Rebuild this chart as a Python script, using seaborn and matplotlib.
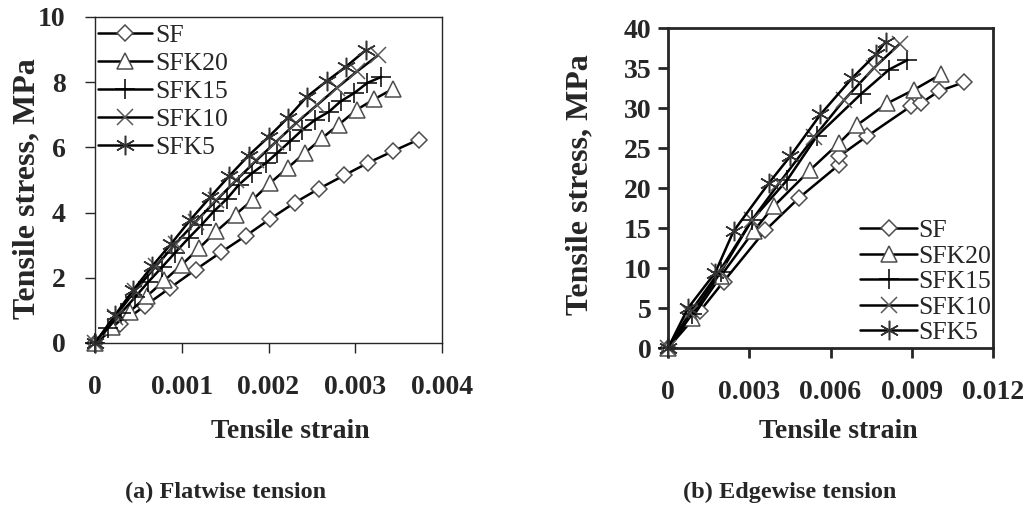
import numpy as np
import pandas as pd
import seaborn as sns
import matplotlib.pyplot as plt

# (a) flatwise tension
flat_sf_x = [0, 0.00029, 0.00058, 0.00087, 0.00116, 0.00145, 0.00174, 0.00202, 0.00230, 0.00258, 0.00287, 0.00315, 0.00344, 0.00373]
flat_sf_y = [0, 0.58, 1.15, 1.70, 2.25, 2.78, 3.29, 3.81, 4.30, 4.73, 5.14, 5.53, 5.89, 6.24]
flat_k20_x = [0, 0.0002, 0.0004, 0.0006, 0.0008, 0.0010, 0.0012, 0.0014, 0.00162, 0.00182, 0.00202, 0.00222, 0.00242, 0.00262, 0.00281, 0.00302, 0.00322, 0.00343]
flat_k20_y = [0, 0.48, 0.96, 1.44, 1.92, 2.40, 2.91, 3.43, 3.94, 4.40, 4.91, 5.37, 5.83, 6.29, 6.70, 7.16, 7.48, 7.79]
flat_k15_x = [0, 0.00015, 0.0003, 0.00046, 0.00061, 0.00077, 0.00092, 0.00108, 0.00123, 0.00137, 0.00152, 0.00166, 0.00181, 0.00197, 0.0021, 0.00225, 0.00239, 0.00254, 0.0027, 0.00283, 0.00299, 0.00314, 0.0033]
flat_k15_y = [0, 0.46, 0.92, 1.40, 1.86, 2.32, 2.76, 3.22, 3.63, 4.04, 4.42, 4.86, 5.21, 5.52, 5.83, 6.19, 6.54, 6.85, 7.10, 7.41, 7.67, 7.98, 8.16]
flat_k10_x = [0, 0.00023, 0.00046, 0.0007, 0.00093, 0.00116, 0.0014, 0.00163, 0.00186, 0.00209, 0.00232, 0.00256, 0.00279, 0.00302, 0.00326]
flat_k10_y = [0, 0.80, 1.60, 2.35, 3.05, 3.72, 4.38, 5.00, 5.60, 6.18, 6.75, 7.30, 7.83, 8.33, 8.82]
flat_k5_x = [0, 0.00023, 0.00044, 0.00066, 0.00088, 0.00110, 0.00133, 0.00155, 0.00177, 0.0020, 0.00222, 0.00244, 0.00267, 0.00289, 0.00312]
flat_k5_y = [0, 0.85, 1.62, 2.36, 3.05, 3.78, 4.48, 5.13, 5.75, 6.32, 6.90, 7.55, 8.03, 8.47, 8.98]

# (b) edgewise tension
edge_sf_x = [0, 0.00118, 0.00205, 0.00359, 0.00483, 0.00631, 0.00633, 0.00736, 0.00896, 0.00933, 0.0100, 0.01091]
edge_sf_y = [0, 4.6, 8.3, 14.7, 18.75, 22.9, 24.0, 26.5, 30.2, 30.6, 32.1, 33.2]
edge_k20_x = [0, 0.00088, 0.00195, 0.00316, 0.0039, 0.00526, 0.00631, 0.00699, 0.0081, 0.00909, 0.01007]
edge_k20_y = [0, 3.75, 9.0, 14.6, 17.7, 22.3, 25.6, 27.9, 30.6, 32.3, 34.2]
edge_k15_x = [0, 0.0009, 0.00195, 0.0031, 0.0044, 0.0055, 0.00711, 0.00816, 0.00884]
edge_k15_y = [0, 4.3, 9.5, 16.0, 21.0, 26.5, 31.7, 34.8, 36.0]
edge_k10_x = [0, 0.0008, 0.0019, 0.0031, 0.0041, 0.0054, 0.0065, 0.0076, 0.00855]
edge_k10_y = [0, 4.4, 9.6, 16.0, 20.6, 26.4, 31.0, 35.0, 38.0]
edge_k5_x = [0, 0.00074, 0.00174, 0.00242, 0.00372, 0.00452, 0.00563, 0.0068, 0.00767, 0.00804]
edge_k5_y = [0, 5.0, 9.4, 14.6, 20.6, 24.0, 29.2, 33.75, 36.7, 38.3]

names = ["SF", "SFK20", "SFK15", "SFK10", "SFK5"]
flat = [(flat_sf_x, flat_sf_y), (flat_k20_x, flat_k20_y), (flat_k15_x, flat_k15_y),
        (flat_k10_x, flat_k10_y), (flat_k5_x, flat_k5_y)]
edge = [(edge_sf_x, edge_sf_y), (edge_k20_x, edge_k20_y), (edge_k15_x, edge_k15_y),
        (edge_k10_x, edge_k10_y), (edge_k5_x, edge_k5_y)]

# marker, size, face, edge
styles = [("D", 8, "white", "0.3"),
          ("^", 11, "white", "0.3"),
          ("+", 14, "none", "black"),
          ("x", 12, "none", "0.35"),
          ((6, 2, 0), 14, "none", "0.2")]

sns.set_style("ticks")
plt.rcParams["font.family"] = ["Liberation Serif", "DejaVu Serif"]

fig = plt.figure(figsize=(10.28, 5.13), dpi=100)
ax1 = fig.add_axes([0.0924, 0.3314, 0.3376, 0.6355])
ax2 = fig.add_axes([0.6498, 0.3216, 0.3162, 0.6238])


def draw(ax, series, lw):
    for name, (x, y), (m, ms, fc, ec) in zip(names, series, styles):
        df = pd.DataFrame({"strain": x, "stress": y})
        sns.lineplot(data=df, x="strain", y="stress", ax=ax, color="black", lw=1.8,
                     marker=m, markersize=ms, markerfacecolor=fc, markeredgecolor=ec,
                     markeredgewidth=1.1, sort=False, estimator=None, label=name,
                     clip_on=False)
    for s in ax.spines.values():
        s.set_linewidth(lw)
        s.set_visible(True)
    ax.tick_params(direction="out", length=7, width=lw, labelsize=20)
    ax.set_xlabel("Tensile strain", fontsize=20, fontweight="bold", va="top")
    ax.set_ylabel("Tensile stress, MPa", fontsize=23, fontweight="bold", va="center")


draw(ax1, flat, 1.0)
ax1.set_xlim(0, 0.004)
ax1.set_ylim(0, 10)
ax1.set_xticks([0, 0.001, 0.002, 0.003, 0.004])
ax1.set_xticklabels(["0", "0.001", "0.002", "0.003", "0.004"], fontweight="bold")
ax1.set_yticks([0, 2, 4, 6, 8, 10])
ax1.set_yticklabels(["0", "2", "4", "6", "8", "10"], fontweight="bold")
ax1.tick_params(axis="x", pad=16)
ax1.tick_params(axis="y", pad=14)
ax1.xaxis.set_label_coords(0.562, -0.232)
ax1.yaxis.set_label_coords(-0.196, 0.475)
ax1.legend(loc="upper left", bbox_to_anchor=(-0.005, 0.995), frameon=False, fontsize=18.5,
           handlelength=2.1, handletextpad=0.1, labelspacing=0.2, borderaxespad=0.1,
           borderpad=0.1)

draw(ax2, edge, 2.0)
ax2.set_xlim(0, 0.012)
ax2.set_ylim(0, 40)
ax2.set_xticks([0, 0.003, 0.006, 0.009, 0.012])
ax2.set_xticklabels(["0", "0.003", "0.006", "0.009", "0.012"], fontweight="bold")
ax2.set_yticks(range(0, 41, 5))
ax2.set_yticklabels([str(v) for v in range(0, 41, 5)], fontweight="bold")
ax2.tick_params(axis="x", pad=16)
ax2.tick_params(axis="y", pad=5)
ax2.xaxis.set_label_coords(0.523, -0.222)
ax2.yaxis.set_label_coords(-0.271, 0.51)
ax2.legend(loc="lower right", bbox_to_anchor=(1.01, -0.005), frameon=False, fontsize=18.5,
           handlelength=2.2, handletextpad=0.05, labelspacing=0.1, borderaxespad=0.1,
           borderpad=0.1)

fig.text(0.219, 0.04, "(a) Flatwise tension", ha="center", va="center", fontsize=17.5, fontweight="bold")
fig.text(0.768, 0.04, "(b) Edgewise tension", ha="center", va="center", fontsize=17.5, fontweight="bold")

fig.savefig("out.png", dpi=100)
